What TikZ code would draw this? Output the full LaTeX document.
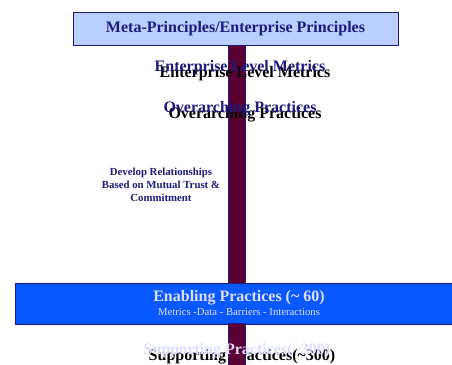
\documentclass[tikz,border=0pt]{standalone}
\usepackage{fontspec}
\setmainfont{Liberation Serif}
\definecolor{navy}{HTML}{1C1C7A}
\definecolor{paleblue}{HTML}{B9CFFF}
\definecolor{brightblue}{HTML}{0A58FF}
\definecolor{maroon}{HTML}{5C0033}
\definecolor{lavender}{HTML}{DCDEFF}
\tikzset{
  big/.style={font=\bfseries\fontsize{16}{18}\selectfont, anchor=base, inner sep=0pt},
  shadow/.style={big, text=black},
  barpart/.style={fill=maroon, draw=navy, line width=0.8pt}
}
\begin{document}
\begin{tikzpicture}[x=1pt,y=-1pt]
\useasboundingbox (0,0) rectangle (452,364);

\path[barpart] (228,45) rectangle (245,283);

\node[draw=navy, fill=paleblue, line width=0.8pt, minimum width=325pt, minimum height=33pt,
      font=\bfseries\fontsize{16}{18}\selectfont, text=navy] (meta) at (235.5,28.5)
      {Meta-Principles/Enterprise Principles};

\foreach \name/\txt/\y in {metrics/Enterprise Level Metrics/71.5, overarching/Overarching Practices/112.5} {
  \node[shadow] (\name shadow) at (245,\y+5.5) {\txt};
  \node[big, text=navy] (\name) at (240,\y) {\txt};
}

\node[font=\bfseries\fontsize{10.8}{13}\selectfont, text=navy, align=center] (develop) at (161,185)
  {Develop Relationships\\Based on Mutual Trust \&\\Commitment};

\node[draw=navy, fill=brightblue, line width=0.8pt, minimum width=440pt, minimum height=41pt,
      anchor=north west] (enabling) at (15,282.5) {};
\node[big, text=lavender] (enablingtitle) at (239,301) {Enabling Practices (\textasciitilde\ 60)};
\node[font=\fontsize{10.7}{12}\selectfont, text=lavender, anchor=base, inner sep=0pt] (enablingsub) at (239,315.5)
  {Metrics -Data - Barriers - Interactions};

\node[shadow] (supportingshadow) at (242,360) {Supporting Practices(\textasciitilde300)};
\path[barpart] (228,323.5) rectangle (245,365);
\node[big, text=lavender] (supporting) at (237,354) {Supporting Practices(\textasciitilde300)};

\end{tikzpicture}
\end{document}
